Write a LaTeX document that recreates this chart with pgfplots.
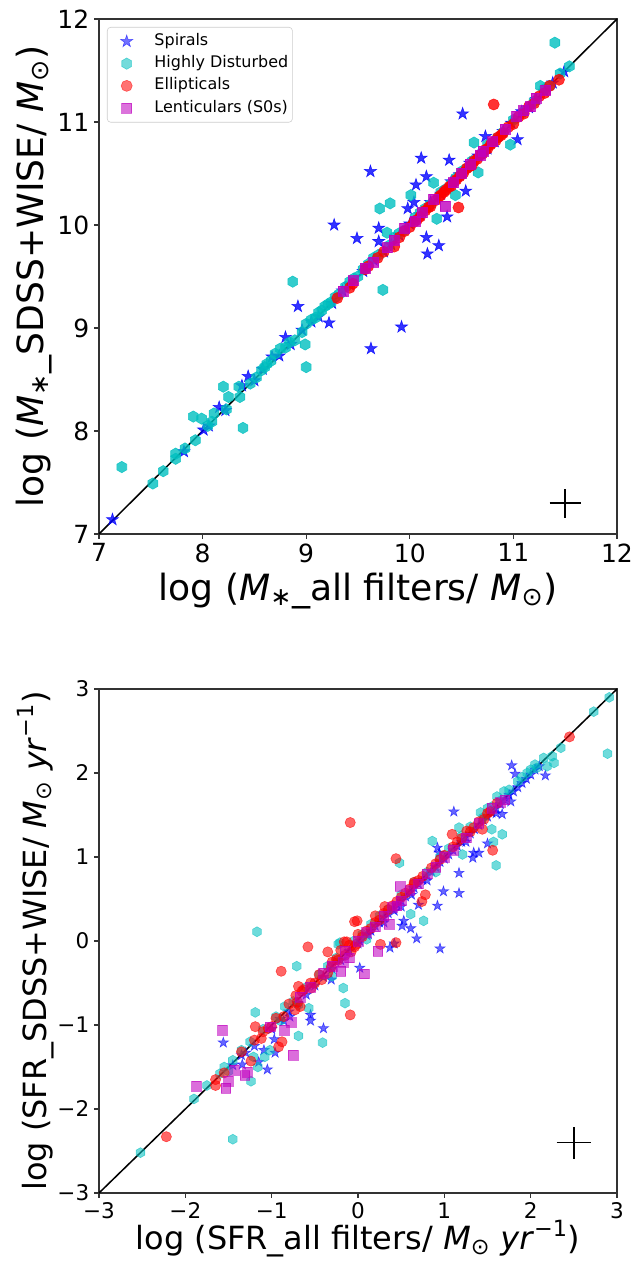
\documentclass[border=0pt]{standalone}
\usepackage{fontspec}
\setmainfont{DejaVu Sans}
\usepackage{pgfplots}
\pgfplotsset{compat=1.18}

\definecolor{mb}{rgb}{0,0,1}
\definecolor{mc}{rgb}{0,0.75,0.75}
\definecolor{mr}{rgb}{1,0,0}
\definecolor{mm}{rgb}{0.75,0,0.75}

\pgfdeclareplotmark{hexa}{%
  \pgfpathmoveto{\pgfpointpolar{90}{\pgfplotmarksize}}%
  \pgfpathlineto{\pgfpointpolar{150}{\pgfplotmarksize}}%
  \pgfpathlineto{\pgfpointpolar{210}{\pgfplotmarksize}}%
  \pgfpathlineto{\pgfpointpolar{270}{\pgfplotmarksize}}%
  \pgfpathlineto{\pgfpointpolar{330}{\pgfplotmarksize}}%
  \pgfpathlineto{\pgfpointpolar{30}{\pgfplotmarksize}}%
  \pgfpathclose
  \pgfusepathqfillstroke}
\pgfdeclareplotmark{fstar}{%
  \pgfpathmoveto{\pgfpointpolar{90}{\pgfplotmarksize}}%
  \pgfpathlineto{\pgfpointpolar{126}{0.382\pgfplotmarksize}}%
  \pgfpathlineto{\pgfpointpolar{162}{\pgfplotmarksize}}%
  \pgfpathlineto{\pgfpointpolar{198}{0.382\pgfplotmarksize}}%
  \pgfpathlineto{\pgfpointpolar{234}{\pgfplotmarksize}}%
  \pgfpathlineto{\pgfpointpolar{270}{0.382\pgfplotmarksize}}%
  \pgfpathlineto{\pgfpointpolar{306}{\pgfplotmarksize}}%
  \pgfpathlineto{\pgfpointpolar{342}{0.382\pgfplotmarksize}}%
  \pgfpathlineto{\pgfpointpolar{18}{\pgfplotmarksize}}%
  \pgfpathlineto{\pgfpointpolar{54}{0.382\pgfplotmarksize}}%
  \pgfpathclose
  \pgfusepathqfillstroke}

\pgfplotsset{
  lgimg/.style={legend image code/.code={\path[draw=none,fill=none] (0pt,-3pt) rectangle (24pt,3pt);\draw[mark repeat=2,mark phase=2,##1] plot coordinates {(0pt,0pt) (12pt,0pt) (24pt,0pt)};}},
  spT/.style={only marks, mark=fstar, mark size=4.6pt, mark options={draw=mb, fill=mb, opacity=#1, line width=0.4pt}},
  hdT/.style={only marks, mark=hexa, mark size=4.1pt, mark options={draw=mc, fill=mc, opacity=#1, line width=0.4pt}},
  elT/.style={only marks, mark=*, mark size=4pt, mark options={draw=mr, fill=mr, opacity=#1, line width=0.4pt}},
  leT/.style={only marks, mark=square*, mark size=3.6pt, mark options={draw=mm, fill=mm, opacity=#1, line width=0.4pt}},
  spB/.style={only marks, mark=fstar, mark size=3.9pt, mark options={draw=mb, fill=mb, opacity=0.6, line width=0.4pt}},
  hdB/.style={only marks, mark=hexa, mark size=3.6pt, mark options={draw=mc, fill=mc, opacity=0.57, line width=0.4pt}},
  elB/.style={only marks, mark=*, mark size=3.7pt, mark options={draw=mr, fill=mr, opacity=0.6, line width=0.4pt}},
  leB/.style={only marks, mark=square*, mark size=3.5pt, mark options={draw=mm, fill=mm, opacity=0.57, line width=0.4pt}},
  myaxis/.style={
    scale only axis, width=372.96pt,
    axis line style={black!80, line width=0.8pt},
    tick style={black!80, line width=0.8pt},
    major tick length=3.5pt, tick align=outside,
    xtick pos=bottom, ytick pos=left,
    /pgf/number format/assume math mode=true,
    clip=false,
  },
}

\begin{document}
\begin{tikzpicture}[x=1pt,y=1pt]
\useasboundingbox (0,0) rectangle (457.2,907.92);

% ---------------- top panel ----------------
\begin{axis}[myaxis,
  at={(71.28pt,523.44pt)}, anchor=south west, height=370.8pt,
  xmin=7, xmax=12, ymin=7, ymax=12,
  xtick={7,8,9,10,11,12}, ytick={7,8,9,10,11,12},
  ticklabel style={font=\fontsize{18}{21}\selectfont},
  xlabel={log (\textit{M}\textsubscript{∗}\_all filters/ \textit{M}\textsubscript{⊙})},
  ylabel={log (\textit{M}\textsubscript{∗}\_SDSS+WISE/ \textit{M}\textsubscript{⊙})},
  xlabel style={at={(axis description cs:0.5,-0.111)}, anchor=center, font=\fontsize{26}{30}\selectfont},
  ylabel style={at={(axis description cs:-0.125,0.5)}, anchor=center, font=\fontsize{26}{30}\selectfont},
  legend cell align=left,
  legend style={at={(0.0154,0.9845)}, anchor=north west, draw=black!20, rounded corners=2.5pt,
    fill=white, font=\fontsize{11.5}{13}\selectfont, inner xsep=2pt, inner ysep=3.6pt,
    row sep=2.8pt, column sep=7pt, nodes={inner sep=1pt, text height=8.5pt, text depth=2.7pt}},
]
\addlegendimage{spT=0.55, lgimg}\addlegendentry{Spirals}
\addlegendimage{hdT=0.55, lgimg}\addlegendentry{Highly Disturbed}
\addlegendimage{elT=0.55, lgimg}\addlegendentry{Ellipticals}
\addlegendimage{leT=0.55, lgimg}\addlegendentry{Lenticulars (S0s)}

\addplot[black, line width=1.1pt, forget plot] coordinates {(7,7) (12,12)};

\addplot[spT=0.8, forget plot] coordinates {
(7.13,7.14) (7.82,7.80) (8.01,8.01) (8.06,8.05) (8.16,8.23) (8.22,8.20) (8.38,8.44)
(8.44,8.53) (8.50,8.49) (8.58,8.60) (8.67,8.72) (8.74,8.73) (8.80,8.91) (8.85,8.84)
(8.92,9.21) (8.96,8.98) (9.05,9.06) (9.12,9.11) (9.22,9.05) (9.25,9.24) (9.27,10.00)
(9.35,9.36) (9.42,9.42) (9.49,9.87) (9.55,9.55) (9.62,10.52) (9.625,8.80) (9.65,9.66)
(9.70,9.97) (9.70,9.84) (9.75,9.74) (9.82,9.81) (9.90,9.90) (9.92,9.01) (9.98,10.16)
(10.00,10.01) (10.04,10.22) (10.06,10.39) (10.10,10.10) (10.11,10.65) (10.16,10.47)
(10.16,9.88) (10.17,9.72) (10.20,10.22) (10.28,9.80) (10.30,10.30) (10.36,10.08)
(10.38,10.63) (10.40,10.42) (10.48,10.49) (10.51,11.08) (10.54,10.33) (10.58,10.60)
(10.66,10.67) (10.73,10.86) (10.75,10.74) (10.82,10.81) (10.90,10.91) (10.98,10.99)
(11.04,10.83) (11.08,11.10) (11.15,11.14) (11.22,11.22) (11.30,11.30) (11.38,11.38)
(11.49,11.49)
};
\addplot[hdT=0.8, forget plot] coordinates {
(7.22,7.65) (7.52,7.49) (7.62,7.61) (7.74,7.73) (7.74,7.78) (7.83,7.83) (7.91,8.14)
(7.93,7.91) (7.99,8.12) (8.05,8.05) (8.09,8.09) (8.11,8.17) (8.20,8.43) (8.23,8.21)
(8.25,8.33) (8.35,8.43) (8.36,8.33) (8.39,8.03) (8.46,8.46) (8.52,8.52) (8.57,8.59)
(8.60,8.62) (8.62,8.65) (8.66,8.68) (8.70,8.75) (8.75,8.80) (8.80,8.81) (8.84,8.86)
(8.87,9.45) (8.89,8.88) (8.96,8.96) (8.99,8.84) (9.00,8.62) (9.00,9.04) (9.05,9.08)
(9.09,9.10) (9.12,9.15) (9.15,9.17) (9.18,9.21) (9.21,9.23) (9.24,9.25) (9.28,9.30)
(9.32,9.33) (9.38,9.40) (9.42,9.45) (9.46,9.48) (9.50,9.50) (9.55,9.57) (9.60,9.62)
(9.65,9.68) (9.71,10.16) (9.70,9.71) (9.74,9.37) (9.78,9.925) (9.80,9.80) (9.81,10.21)
(9.85,9.88) (9.90,9.92) (9.95,9.95) (10.01,10.29) (10.05,10.07) (10.10,10.12)
(10.15,10.16) (10.20,10.20) (10.23,10.41) (10.26,10.06) (10.30,10.32) (10.35,10.35)
(10.40,10.40) (10.44,10.29) (10.45,10.46) (10.50,10.52) (10.55,10.55) (10.60,10.62)
(10.62,10.80) (10.66,10.51) (10.70,10.70) (10.75,10.78) (10.80,10.80) (10.85,10.85)
(10.90,10.90) (10.97,10.78) (11.00,11.02) (11.10,11.10) (11.20,11.20) (11.26,11.35)
(11.30,11.32) (11.35,11.35) (11.40,11.77) (11.45,11.47) (11.54,11.54)
};
\addplot[elT=0.8, forget plot] coordinates {
(9.30,9.29) (9.42,9.39) (9.45,9.43) (9.57,9.57) (9.60,9.60) (9.69,9.68) (9.75,9.74)
(9.85,9.79) (9.90,9.88) (9.95,9.94) (10.00,9.98) (10.04,10.03) (10.07,10.05) (10.10,10.08)
(10.15,10.14) (10.18,10.17) (10.20,10.18) (10.25,10.24) (10.28,10.27) (10.30,10.29)
(10.33,10.32) (10.35,10.34) (10.38,10.37) (10.40,10.38) (10.43,10.42) (10.45,10.44)
(10.47,10.17) (10.48,10.47) (10.50,10.49) (10.52,10.51) (10.55,10.55) (10.58,10.57)
(10.60,10.58) (10.62,10.62) (10.65,10.64) (10.68,10.68) (10.70,10.69) (10.73,10.73)
(10.75,10.74) (10.78,10.78) (10.80,10.80) (10.81,11.17) (10.83,10.82) (10.85,10.85)
(10.88,10.87) (10.90,10.89) (10.95,10.95) (11.00,10.98) (11.05,11.05) (11.10,11.08)
(11.15,11.15) (11.20,11.18) (11.25,11.25) (11.30,11.28) (11.35,11.35) (11.44,11.41)
};
\addplot[leT=0.8, forget plot] coordinates {
(9.36,9.36) (9.45,9.46) (9.57,9.58) (9.65,9.64) (9.78,9.78) (9.85,9.85) (9.95,9.97)
(10.05,10.04) (10.12,10.12) (10.23,10.25) (10.34,10.18) (10.42,10.41) (10.50,10.50)
(10.58,10.59) (10.68,10.68) (10.71,10.72) (10.80,10.81) (10.92,10.93) (11.03,11.06)
(11.10,11.11) (11.16,11.15) (11.22,11.23) (11.31,11.31)
};
% error cross
\addplot[black, line width=1.1pt, forget plot] coordinates {(11.35,7.3) (11.65,7.3)};
\addplot[black, line width=1.1pt, forget plot] coordinates {(11.5,7.16) (11.5,7.44)};
\end{axis}

% ---------------- bottom panel ----------------
\begin{axis}[myaxis,
  at={(71.28pt,48.96pt)}, anchor=south west, height=362.88pt,
  xmin=-3, xmax=3, ymin=-3, ymax=3,
  xtick={-3,-2,-1,0,1,2,3}, ytick={-3,-2,-1,0,1,2,3},
  xticklabels={−3,−2,−1,0,1,2,3}, yticklabels={−3,−2,−1,0,1,2,3},
  ticklabel style={font=\fontsize{15.5}{18}\selectfont},
  xlabel={log (SFR\_all filters/ \textit{M}\textsubscript{⊙} \textit{yr}\textsuperscript{−1})},
  ylabel={log (SFR\_SDSS+WISE/ \textit{M}\textsubscript{⊙} \textit{yr}\textsuperscript{−1})},
  xlabel style={at={(axis description cs:0.5,-0.09)}, anchor=center, font=\fontsize{23}{28}\selectfont},
  ylabel style={at={(axis description cs:-0.122,0.5)}, anchor=center, font=\fontsize{23}{28}\selectfont},
]
\addplot[black, line width=1.1pt] coordinates {(-3,-3) (3,3)};

\addplot[spB] coordinates {
(-1.56,-1.21) (-1.45,-1.48) (-1.35,-1.36) (-1.34,-1.47) (-1.30,-1.33) (-1.20,-1.25)
(-1.15,-1.44) (-1.09,-1.30) (-1.05,-1.53) (-1.00,-1.05) (-0.97,-1.17) (-0.96,-1.33)
(-0.90,-0.93) (-0.86,-0.95) (-0.80,-0.84) (-0.79,-0.90) (-0.70,-0.74) (-0.60,-0.64)
(-0.55,-0.88) (-0.55,-0.95) (-0.50,-0.53) (-0.40,-1.04) (-0.40,-0.43) (-0.31,-0.46)
(-0.30,-0.33) (-0.20,-0.23) (-0.10,-0.12) (0.00,-0.03) (0.02,-0.32) (0.02,0.00)
(0.10,0.07) (0.12,0.08) (0.15,0.12) (0.20,0.18) (0.25,0.22) (0.30,0.28) (0.30,0.22)
(0.35,0.33) (0.37,-0.08) (0.40,0.38) (0.42,-0.03) (0.42,0.36) (0.45,0.43) (0.50,0.48)
(0.50,0.41) (0.51,0.18) (0.53,0.24) (0.55,0.53) (0.60,0.58) (0.61,0.15) (0.62,0.55)
(0.65,0.63) (0.68,0.03) (0.70,0.68) (0.70,0.43) (0.75,0.73) (0.80,0.78) (0.80,0.72)
(0.85,0.83) (0.90,0.88) (0.92,0.42) (0.92,1.11) (0.94,1.05) (0.95,0.94) (0.95,-0.09)
(0.99,0.59) (1.00,0.98) (1.05,1.03) (1.10,1.08) (1.11,1.54) (1.15,1.13) (1.17,0.81)
(1.17,0.57) (1.20,1.18) (1.25,1.24) (1.25,1.18) (1.30,1.28) (1.33,0.99) (1.34,1.05)
(1.35,1.33) (1.40,1.38) (1.40,1.05) (1.45,1.44) (1.50,1.48) (1.50,1.16) (1.55,1.53)
(1.60,1.58) (1.60,1.52) (1.65,1.63) (1.67,1.51) (1.70,1.68) (1.75,1.74) (1.77,1.66)
(1.78,2.09) (1.80,1.78) (1.82,1.99) (1.85,1.83) (1.90,1.88) (1.95,1.93) (2.00,1.98)
(2.05,2.04) (2.10,2.08) (2.17,1.97)
};
\addplot[hdB] coordinates {
(-2.52,-2.52) (-1.90,-1.88) (-1.75,-1.72) (-1.60,-1.58) (-1.55,-1.50) (-1.50,-1.55)
(-1.45,-2.36) (-1.45,-1.42) (-1.35,-1.30) (-1.25,-1.20) (-1.24,-1.67) (-1.21,-1.38)
(-1.19,-0.85) (-1.17,0.11) (-1.16,-1.50) (-1.10,-1.05) (-1.08,-1.38) (-1.02,-1.30)
(-0.95,-0.90) (-0.90,-0.95) (-0.85,-0.78) (-0.75,-0.72) (-0.71,-0.30) (-0.69,-1.13)
(-0.69,-0.76) (-0.60,-0.55) (-0.57,-0.80) (-0.45,-0.40) (-0.41,-1.21) (-0.35,-0.30)
(-0.30,-0.42) (-0.25,-0.20) (-0.23,-0.04) (-0.21,-0.02) (-0.17,-0.56) (-0.15,-0.74)
(-0.05,0.00) (0.05,0.08) (0.10,0.02) (0.15,0.20) (0.25,0.30) (0.35,0.38) (0.48,0.93)
(0.50,0.55) (0.61,0.32) (0.65,0.70) (0.76,0.24) (0.80,0.82) (0.86,1.19) (0.90,0.82)
(0.95,1.00) (1.05,1.10) (1.17,1.35) (1.20,1.25) (1.21,1.03) (1.30,1.36) (1.42,1.53)
(1.45,1.47) (1.50,1.58) (1.55,1.60) (1.55,1.33) (1.57,1.18) (1.60,0.90) (1.61,1.72)
(1.65,1.67) (1.67,1.27) (1.69,1.78) (1.75,1.80) (1.85,1.90) (1.90,1.95) (1.96,2.00)
(2.00,2.04) (2.05,2.10) (2.07,2.06) (2.15,2.18) (2.19,2.08) (2.25,2.20) (2.27,2.12)
(2.35,2.30) (2.73,2.73) (2.89,2.23) (2.91,2.90)
};
\addplot[elB] coordinates {
(-2.22,-2.33) (-1.65,-1.72) (-1.65,-1.65) (-1.55,-1.57) (-1.35,-1.32) (-1.24,-1.43)
(-1.20,-1.18) (-1.19,-1.02) (-1.12,-1.16) (-1.10,-1.08) (-1.04,-1.04) (-1.00,-1.02)
(-0.95,-0.92) (-0.92,-1.26) (-0.89,-0.36) (-0.88,-1.20) (-0.86,-0.90) (-0.80,-0.75)
(-0.73,-0.82) (-0.72,-0.65) (-0.70,-0.73) (-0.69,-0.54) (-0.67,-0.78) (-0.65,-0.60)
(-0.63,-0.58) (-0.58,-0.07) (-0.55,-0.50) (-0.54,-0.56) (-0.50,-0.50) (-0.45,-0.40)
(-0.42,-0.46) (-0.35,-0.38) (-0.35,-0.13) (-0.31,-0.31) (-0.30,-0.25) (-0.25,-0.22)
(-0.23,-0.23) (-0.20,-0.11) (-0.16,-0.01) (-0.15,-0.17) (-0.13,-0.01) (-0.10,-0.05)
(-0.09,-0.88) (-0.09,1.41) (-0.08,-0.13) (-0.04,0.23) (-0.04,-0.07) (-0.02,-0.04)
(-0.01,0.24) (0.00,0.08) (0.05,0.05) (0.10,0.12) (0.15,0.15) (0.20,0.22) (0.20,0.30)
(0.25,0.25) (0.26,-0.04) (0.30,0.33) (0.31,0.41) (0.35,0.37) (0.40,0.42) (0.44,0.98)
(0.44,-0.02) (0.45,0.47) (0.50,0.52) (0.55,0.57) (0.60,0.62) (0.65,0.70) (0.65,0.68)
(0.70,0.72) (0.74,0.47) (0.75,0.77) (0.78,0.55) (0.85,0.87) (0.90,0.92) (0.95,0.97)
(1.00,1.02) (1.09,1.27) (1.10,1.12) (1.15,1.18) (1.20,1.22) (1.26,1.31) (1.30,1.30)
(1.34,1.35) (1.40,1.42) (1.44,1.33) (1.46,1.45) (1.50,1.52) (1.53,1.54) (1.56,1.08)
(1.61,1.64) (2.45,2.43)
};
\addplot[leB] coordinates {
(-1.87,-1.73) (-1.57,-1.06) (-1.53,-1.75) (-1.50,-1.67) (-1.43,-1.54) (-1.31,-1.60)
(-1.28,-1.56) (-1.02,-1.02) (-0.85,-1.06) (-0.77,-0.97) (-0.75,-1.36) (-0.67,-0.67)
(-0.55,-0.55) (-0.40,-0.38) (-0.30,-0.30) (-0.20,-0.36) (-0.17,-0.25) (-0.15,-0.12)
(-0.10,-0.20) (0.00,0.00) (0.07,-0.39) (0.10,0.10) (0.20,0.17) (0.23,-0.12) (0.30,0.30)
(0.36,0.20) (0.40,0.40) (0.45,0.42) (0.49,0.65) (0.50,0.48) (0.60,0.60) (0.70,0.68)
(0.80,0.80) (0.90,0.88) (1.00,1.00) (1.10,1.08) (1.25,1.23) (1.40,1.40) (1.55,1.58)
(1.65,1.65) (1.70,1.68)
};
% error cross
\addplot[black, line width=1.1pt] coordinates {(2.3,-2.4) (2.7,-2.4)};
\addplot[black, line width=1.1pt] coordinates {(2.5,-2.59) (2.5,-2.21)};
\end{axis}
\end{tikzpicture}
\end{document}
